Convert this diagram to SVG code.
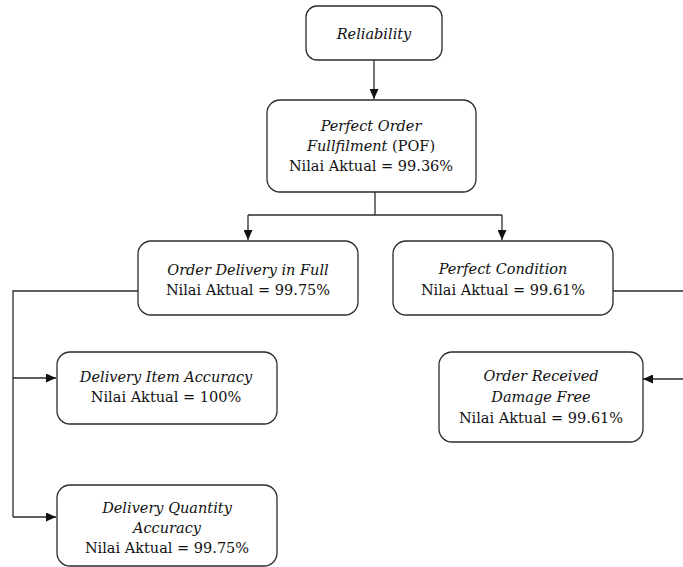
<svg xmlns="http://www.w3.org/2000/svg" width="683" height="567" viewBox="0 0 683 567">
<style>
.box{fill:#fff;stroke:#2b2b2b;stroke-width:1.3}
.t{font-family:"DejaVu Serif","Liberation Serif",serif;font-size:14.5px;fill:#111;text-anchor:middle}
.i{font-style:italic}
.c{fill:none;stroke:#2b2b2b;stroke-width:1.3}
</style>
<defs>
<marker id="ah" viewBox="0 0 10 10" refX="10" refY="5" markerWidth="10" markerHeight="9" markerUnits="userSpaceOnUse" orient="auto" preserveAspectRatio="none">
<path d="M0,0 L10,5 L0,10 Z" fill="#111"/>
</marker>
</defs>
<rect width="683" height="567" fill="#fff"/>
<g id="connectors">
<path class="c" d="M374,60 V99" marker-end="url(#ah)"/>
<path class="c" d="M375,192 V215"/>
<path class="c" d="M248,215 H502"/>
<path class="c" d="M248,215 V240" marker-end="url(#ah)"/>
<path class="c" d="M502,215 V240" marker-end="url(#ah)"/>
<path class="c" d="M138,291 H13 V517"/>
<path class="c" d="M13,378 H56" marker-end="url(#ah)"/>
<path class="c" d="M13,517 H56" marker-end="url(#ah)"/>
<path class="c" d="M613,291 H684 V379"/>
<path class="c" d="M684,379 H643" marker-end="url(#ah)"/>
</g>
<g id="reliability">
<rect class="box" x="306" y="6" width="136" height="54" rx="11"/>
<text class="t i" x="374" y="39">Reliability</text>
</g>
<g id="pof">
<rect class="box" x="267" y="100" width="209" height="92" rx="13"/>
<text class="t" x="371" y="131"><tspan class="i">Perfect Order</tspan></text>
<text class="t" x="371" y="151"><tspan class="i">Fullfilment</tspan> (POF)</text>
<text class="t" x="371" y="171">Nilai Aktual = 99.36%</text>
</g>
<g id="odif">
<rect class="box" x="138" y="241" width="220" height="74" rx="13"/>
<text class="t i" x="248" y="275">Order Delivery in Full</text>
<text class="t" x="248" y="295">Nilai Aktual = 99.75%</text>
</g>
<g id="pc">
<rect class="box" x="393" y="241" width="220" height="74" rx="13"/>
<text class="t i" x="503" y="274">Perfect Condition</text>
<text class="t" x="503" y="295">Nilai Aktual = 99.61%</text>
</g>
<g id="dia">
<rect class="box" x="57" y="352" width="220" height="72" rx="13"/>
<text class="t i" x="166" y="382">Delivery Item Accuracy</text>
<text class="t" x="166" y="402">Nilai Aktual = 100%</text>
</g>
<g id="ordf">
<rect class="box" x="439" y="352" width="204" height="90" rx="13"/>
<text class="t i" x="541" y="381">Order Received</text>
<text class="t i" x="541" y="402">Damage Free</text>
<text class="t" x="541" y="423">Nilai Aktual = 99.61%</text>
</g>
<g id="dqa">
<rect class="box" x="57" y="485" width="220" height="81" rx="13"/>
<text class="t i" x="167" y="513">Delivery Quantity</text>
<text class="t i" x="167" y="533">Accuracy</text>
<text class="t" x="167" y="553">Nilai Aktual = 99.75%</text>
</g>
</svg>
